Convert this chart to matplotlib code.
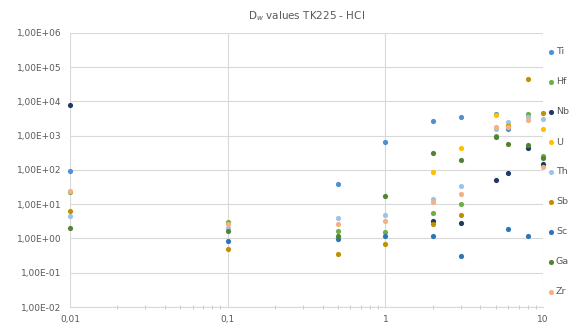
import numpy as np
import matplotlib
matplotlib.use("Agg")
import matplotlib.pyplot as plt
from matplotlib.lines import Line2D
from matplotlib.ticker import FixedLocator, FuncFormatter, LogLocator, NullFormatter

nan = np.nan

# HCl concentration (x) and D_w values per element
hcl = [0.01, 0.1, 0.5, 1, 2, 3, 5, 6, 8, 10]

ti = [93, nan, 40, 660, 2600, 3500, 4300, 1550, nan, nan]
hf = [22, 3.1, 1.6, 1.5, 5.5, 10, 950, nan, 4300, 260]
nb = [8000, nan, nan, nan, 3.2, 2.9, 52, 80, 430, 150]
u = [nan, nan, nan, nan, 85, 440, 4000, 2100, nan, 1600]
th = [4.4, 2.0, 3.9, 4.7, 14, 34, 1600, 2500, 3500, 3100]
sb = [6.5, 0.48, 0.36, 0.67, 2.6, 4.9, nan, 1900, 46000, 4500]
sc = [nan, 0.85, 0.98, 1.17, 1.15, 0.31, nan, 1.9, 1.2, nan]
ga = [2.0, 1.7, 1.15, 17, 310, 190, 930, 580, 540, 230]
zr = [25, 2.6, 2.6, 3.2, 11.5, 20, 1800, 1800, 2900, 125]

names = ["Ti", "Hf", "Nb", "U", "Th", "Sb", "Sc", "Ga", "Zr"]
series = [ti, hf, nb, u, th, sb, sc, ga, zr]
colors = ["#4F8FD3", "#70AD47", "#203864", "#FFC000", "#9DC3E6",
          "#BF9000", "#2E75B6", "#548235", "#F4B183"]

x_ticks = [0.01, 0.1, 1, 10]
y_ticks = [1e-2, 1e-1, 1e0, 1e1, 1e2, 1e3, 1e4, 1e5, 1e6]

grey = "#595959"
W, H = 571, 336

fig = plt.figure(figsize=(W / 100, H / 100), dpi=100)
ax = fig.add_axes([0.1226, 0.0863, 0.951 - 0.1226, 0.902 - 0.0863])

for name, vals, c in zip(names, series, colors):
    ax.scatter(hcl, vals, s=14, color=c, zorder=3, clip_on=False, linewidths=0)

ax.set_xscale("log")
ax.set_yscale("log")
ax.set_xlim(0.01, 10)
ax.set_ylim(1e-2, 1e6)

ax.xaxis.set_major_locator(FixedLocator(x_ticks))
ax.yaxis.set_major_locator(FixedLocator(y_ticks))
ax.xaxis.set_minor_locator(LogLocator(base=10, subs=np.arange(2, 10)))
ax.xaxis.set_minor_formatter(NullFormatter())
ax.yaxis.set_minor_locator(FixedLocator([]))

ax.xaxis.set_major_formatter(FuncFormatter(lambda v, p: ("%g" % v).replace(".", ",")))
ax.yaxis.set_major_formatter(FuncFormatter(lambda v, p: ("%.2E" % v).replace(".", ",")))

ax.grid(True, which="major", color="#D9D9D9", linewidth=0.8)
ax.set_axisbelow(True)
for s in ["left", "right", "top"]:
    ax.spines[s].set_visible(False)
ax.spines["bottom"].set_color("#D9D9D9")

ax.tick_params(axis="both", which="major", length=0, labelsize=6.5, labelcolor=grey, pad=6)
ax.tick_params(axis="x", which="minor", length=3, direction="inout", color="#BFBFBF")

ax.set_title("D$_w$ values TK225 - HCl", fontsize=7.5, color=grey, pad=10)

# legend column squeezed against the right edge, like the original
for i, (name, c) in enumerate(zip(names, colors)):
    yf = 1 - (52 + 30 * i) / H
    fig.add_artist(Line2D([551 / W], [yf], transform=fig.transFigure,
                          linestyle="none", marker="o", markersize=3.7,
                          markerfacecolor=c, markeredgewidth=0))
    fig.text(556 / W, yf, name, fontsize=6.8, color=grey, va="center", ha="left")

fig.savefig("out.png", dpi=100)
